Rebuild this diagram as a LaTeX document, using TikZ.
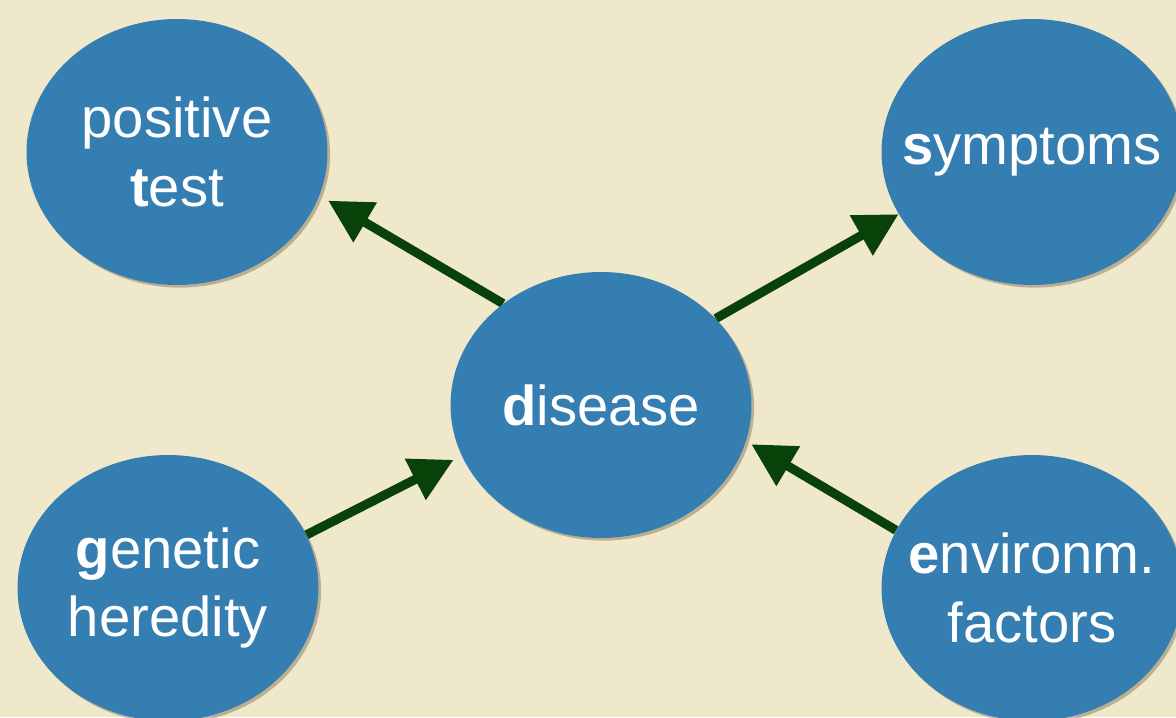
\documentclass[tikz,border=0pt]{standalone}
\usepackage{fontspec}
\setmainfont{Liberation Sans}
\usetikzlibrary{shapes.geometric,arrows.meta,shadows}
\definecolor{bgc}{RGB}{240,232,203}
\definecolor{nodeblue}{RGB}{52,126,178}
\definecolor{arrowgreen}{RGB}{8,66,8}
\definecolor{shadowc}{RGB}{90,70,40}
\pgfdeclarelayer{background}
\pgfsetlayers{background,main}
\begin{document}
\begin{tikzpicture}[x=0.02cm,y=-0.02cm,
  var/.style={ellipse, fill=nodeblue, minimum width=6.02cm, minimum height=5.32cm,
    inner sep=-1.2cm, text=white, align=center, font=\fontsize{32}{39}\selectfont,
    drop shadow={shadow xshift=1.5pt, shadow yshift=-1.5pt, opacity=0.35, fill=shadowc}},
  dep/.style={draw=arrowgreen, line width=5.2pt, -{Triangle[length=0.86cm,width=0.88cm]}}]
\useasboundingbox (0,0) rectangle (1176,717);
\clip (0,0) rectangle (1176,717);
\node[var] (t) at (177,152) {positive\\\textbf{t}est};
\node[var] (s) at (1032,152) {\textbf{s}ymptoms};
\node[var] (d) at (601,405) {\textbf{d}isease};
\node[var] (g) at (168,588) {\textbf{g}enetic\\heredity};
\node[var] (e) at (1032,588) {\textbf{e}nvironm.\\factors};
\begin{pgfonlayer}{background}
\fill[bgc] (0,0) rectangle (1176,717);
\draw[dep, shorten >=0.2cm] (d.134) -- (t.-17);
\draw[dep] (d.37) -- (s.205);
\draw[dep, shorten >=0.18cm] (g.21) -- (d.200);
\draw[dep, shorten >=0.12cm] (e.157) -- (d.-14);
\end{pgfonlayer}
\end{tikzpicture}
\end{document}
